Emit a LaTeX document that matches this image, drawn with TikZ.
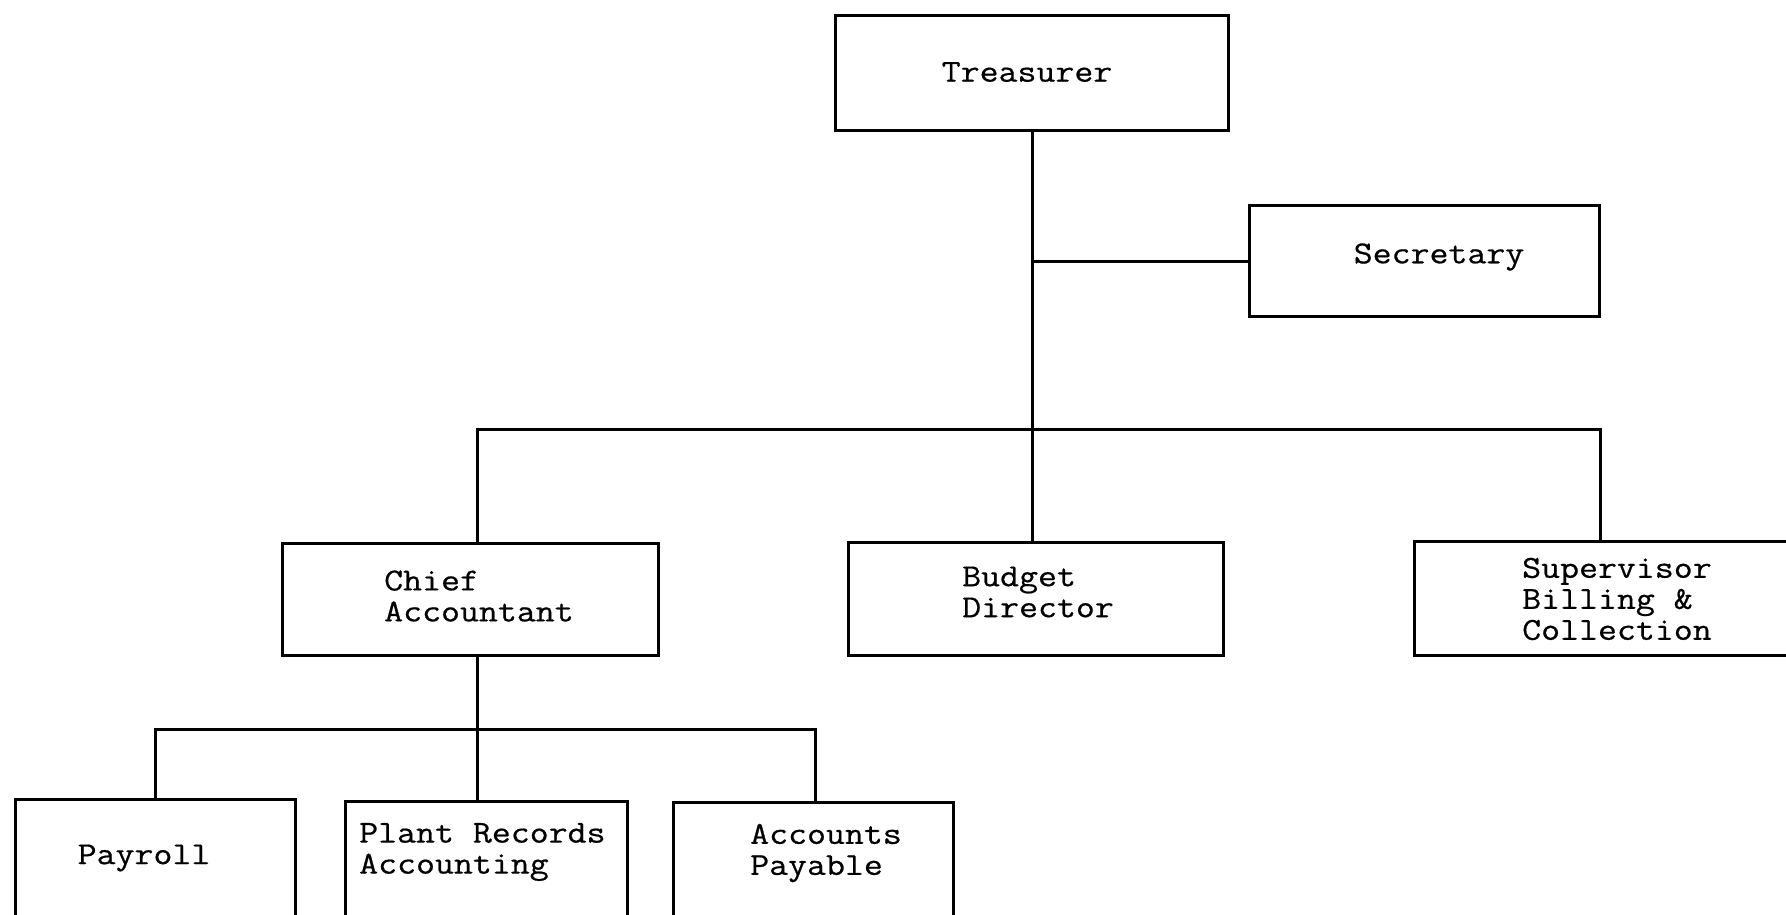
\documentclass[tikz,border=0pt]{standalone}
\usepackage{fontspec}
\newfontfamily\tw{Latin Modern Mono}[FakeStretch=1.15,FakeBold=0.6]
\begin{document}
\begin{tikzpicture}[x=1pt,y=-1pt,
  box/.style={draw, line width=3pt, rectangle, inner sep=0pt, anchor=north west},
  lbl/.style={font=\tw\fontsize{32}{31}\selectfont, inner sep=0pt, align=left},
  con/.style={line width=3pt}]
\useasboundingbox (0,0) rectangle (1786,914);
\clip (0,0) rectangle (1786,914);
% boxes
\node[box, minimum width=393pt, minimum height=115pt] (treas) at (834,14) {};
\node[box, minimum width=350pt, minimum height=111pt] (sec) at (1248,204) {};
\node[box, minimum width=376pt, minimum height=112pt] (chief) at (281,542) {};
\node[box, minimum width=375pt, minimum height=113pt] (budget) at (847,541) {};
\node[box, minimum width=420pt, minimum height=114pt] (sup) at (1413,540) {};
\node[box, minimum width=280pt, minimum height=150pt] (pay) at (14,798) {};
\node[box, minimum width=282pt, minimum height=150pt] (plant) at (344,800) {};
\node[box, minimum width=280pt, minimum height=150pt] (ap) at (672,801) {};
% labels
\node[lbl] (treasT) at (1027,72) {Treasurer};
\node[lbl] (secT) at (1439,257) {Secretary};
\node[lbl, anchor=west] (chiefT) at (384,596) {Chief\\Accountant};
\node[lbl, anchor=west] (budgetT) at (962,592) {Budget\\Director};
\node[lbl, anchor=west] (supT) at (1522,599) {Supervisor\\Billing \&\\Collection};
\node[lbl] (payT) at (144,858) {Payroll};
\node[lbl, anchor=west] (plantT) at (359,852) {Plant Records\\Accounting};
\node[lbl, anchor=west] (apT) at (750,853) {Accounts\\Payable};
% junction points
\coordinate (busL) at (477,429);
\coordinate (busR) at (1600,429);
\coordinate (lbL) at (155,729);
\coordinate (lbR) at (815,729);
% connectors
\draw[con] (treas.south) -- (treas.south |- budget.north);
\draw[con] (treas.south |- sec.west) -- (sec.west);
\draw[con] (chief.north -| busL) -- (busL) -- (busR) -- (busR |- sup.north);
\draw[con] (chief.south -| busL) -- (busL |- plant.north);
\draw[con] (pay.north -| lbL) -- (lbL) -- (lbR) -- (lbR |- ap.north);
\end{tikzpicture}
\end{document}
